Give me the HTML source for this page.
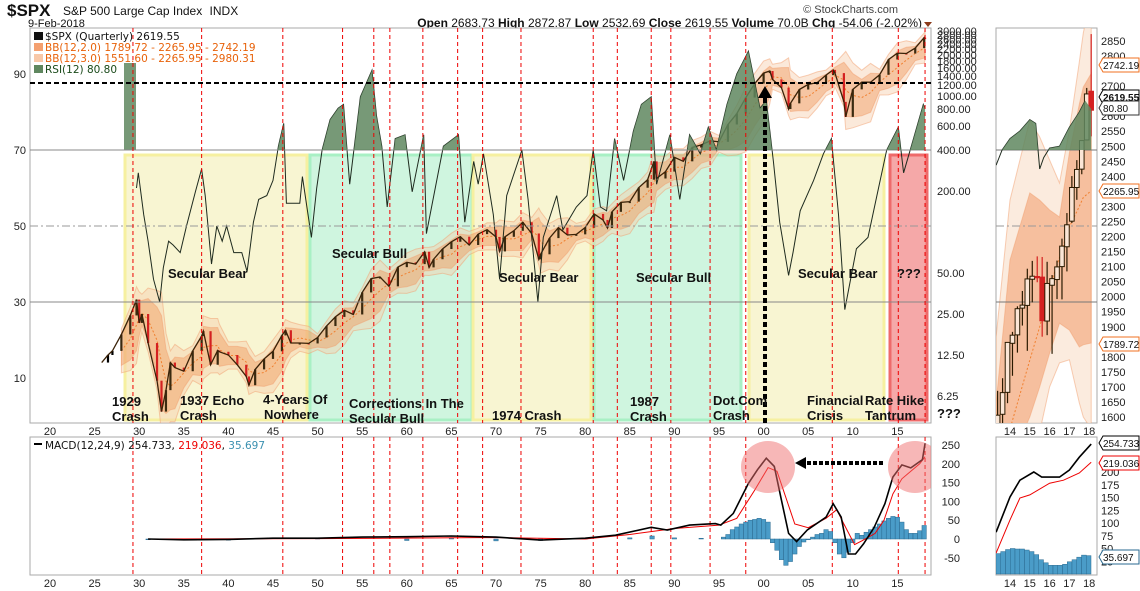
<!DOCTYPE html>
<html><head><meta charset="utf-8"><style>
html,body{margin:0;padding:0;background:#fff;}
svg{display:block;font-family:"Liberation Sans",sans-serif;}
.ann{font:bold 13px "Liberation Sans",sans-serif;fill:#111;}
.ax{font:11px "Liberation Sans",sans-serif;fill:#222;}
</style></head><body>
<svg id="c" width="1140" height="591" viewBox="0 0 1140 591">
<defs>
<clipPath id="mainClip"><rect x="30" y="28" width="901" height="395"/></clipPath>
<clipPath id="rsiTop"><rect x="30" y="28" width="901" height="122"/></clipPath>
<clipPath id="macdClip"><rect x="30" y="437" width="901" height="138"/></clipPath>
<clipPath id="rClip"><rect x="996" y="28" width="101" height="395"/></clipPath>
<clipPath id="rRsiTop"><rect x="996" y="28" width="101" height="122"/></clipPath>
<clipPath id="rMacdClip"><rect x="996" y="437" width="101" height="138"/></clipPath>
</defs>
<text x="7" y="16" font-size="17" font-weight="bold" fill="#111">$SPX</text>
<text x="63" y="15" font-size="12" fill="#111">S&amp;P 500 Large Cap Index <tspan dx="4">INDX</tspan></text>
<text x="28" y="27" font-size="11" fill="#111">9-Feb-2018</text>
<text x="898" y="13" font-size="11" fill="#444" text-anchor="end">© StockCharts.com</text>
<text x="922" y="27" font-size="12" fill="#111" text-anchor="end"><tspan font-weight="bold">Open</tspan> 2683.73  <tspan font-weight="bold">High</tspan> 2872.87  <tspan font-weight="bold">Low</tspan> 2532.69  <tspan font-weight="bold">Close</tspan> 2619.55  <tspan font-weight="bold">Volume</tspan> 70.0B  <tspan font-weight="bold">Chg</tspan> -54.06 (-2.02%)</text>
<path d="M924 22 L932 22 L928 27 Z" fill="#8b3a1a"/>
<g id="g"></g>
</svg>
<script>
// ---- data ----
const priceDates=[1925.8,1926.5,1927,1928,1929,1929.7,1930,1930.3,1931,1932,1932.5,1933,1933.5,1934,1935,1936,1937,1937.2,1938,1938.8,1939,1940,1941,1942,1942.3,1943,1944,1945,1946,1946.4,1947,1948,1949,1950,1951,1952,1953,1954,1955,1956,1957,1958,1959,1960,1961,1962,1962.5,1963,1964,1965,1966,1967,1968,1969,1970,1970.4,1971,1972,1973,1974,1974.8,1975,1976,1977,1978,1979,1980,1981,1982,1982.5,1983,1984,1985,1986,1987,1987.7,1988,1989,1990,1991,1992,1993,1994,1995,1996,1997,1998,1999,2000,2000.7,2001,2002,2002.8,2003,2004,2005,2006,2007,2007.8,2008,2009,2009.2,2010,2011,2012,2013,2014,2015,2016,2017,2018,2018.1];
const priceVals=[11,12.5,13.4,17.7,24.4,31.9,21.5,25,15.3,8.1,4.8,6.9,11,10.1,9.5,13.4,17.2,18.7,10.6,13.5,13.2,12.5,10.6,8.7,7.5,9.8,11.7,13.3,17.4,19,15.3,15.3,15.2,16.8,20.4,23.8,26.6,24.8,36,45.5,46.7,39.9,55.2,59.9,58.1,71.6,55,63.1,75,84.8,92.4,80.3,96.5,103.9,92,72,92.2,102,118,97.5,63,68.6,90.2,107.5,95.1,96.1,107.9,135.8,122.6,107,140.6,164.9,167.2,211.3,242.2,330,247.1,277.7,353.4,330.2,417.1,435.7,466.5,459.3,615.9,740.7,970.4,1229,1469,1520,1320,1148,800,880,1112,1212,1248,1418,1550,1468,903,700,1115,1258,1258,1426,1848,2059,2044,2239,2674,2620];
const rsiDates=[1929.7,1929.9,1930.5,1931,1931.6,1932.3,1932.7,1933.3,1933.8,1934.6,1935.3,1936.3,1937,1937.4,1938.1,1938.7,1939.3,1939.8,1940.6,1941.5,1942.1,1942.8,1943.4,1944.3,1945,1945.6,1946.2,1946.5,1948,1948.3,1948.8,1949.3,1949.9,1950.5,1951.4,1952.3,1952.9,1953.6,1954.8,1956.1,1956.6,1957.2,1957.8,1958.7,1959.8,1960.6,1961.9,1962.2,1964.1,1965.8,1966.5,1967.5,1968,1968.6,1969.7,1970.4,1971.2,1972.9,1973.6,1974.7,1975.3,1976.8,1977.5,1979,1980.2,1980.9,1981.7,1982.4,1983.3,1984.3,1985.4,1986.3,1987.4,1988,1989.5,1990.6,1991.7,1992.9,1993.8,1994.7,1995.9,1997,1998.3,1999.6,2000.3,2001.1,2001.8,2002.8,2003.3,2004.1,2005.6,2006.7,2007.6,2008.4,2009.1,2010.4,2011.7,2012.7,2013.8,2015.1,2015.7,2016.8,2017.9,2018.1];
const rsiVals=[60,64,53,46,36,30,39,46,45,43,50,59,65,58,40,50,46,50,43,43,38,51,57,58,62,71,77,56,56,63,55,47,60,70,78,81,82,61,84,91,79,71,55,73,74,59,74,48,71,74,51,67,61,69,53,36,58,70,57,30,47,58,49,55,58,70,55,54,73,62,75,82,84,61,74,57,74,69,76,70,82,90,96,81,83,67,51,37,43,54,62,69,73,53,28,44,47,58,70,76,64,73,82,80.8];
const macdDates=[1931,1935,1940,1945,1950,1955,1960,1965,1970,1975,1980,1983.4,1987.4,1989.2,1991.7,1994.6,1995.2,1996.6,1998.3,1999.3,2000.3,2001.2,2002,2002.8,2003.7,2004.9,2007,2007.8,2008.7,2009.5,2010.3,2011.2,2012.4,2013.6,2014.5,2015.5,2016.5,2017.8,2018.1];
const macdVals=[0,-2,-1,2,2,5,6,8,5,-3,2,10,31,24,37,41,37,68,148,184,215,193,104,15,-7,24,58,94,58,-40,-40,-13,31,94,165,197,189,211,254.7];
const sigDates=[1931,1950,1970,1980,1985,1990,1995,1997,1999,2000.5,2001.5,2002.5,2003.5,2005,2007,2008.2,2009,2010.2,2011,2012.5,2013.5,2014.5,2015.5,2016.5,2017.5,2018.1];
const sigVals=[0,1,4,0,12,28,37,55,130,190,180,110,40,30,55,78,40,-15,-5,15,50,120,160,180,200,219];
const histDates=[1931,1940,1950,1960,1965,1970,1975,1980,1985,1987.5,1990,1993,1995.5,1996,1996.5,1997,1997.5,1998,1998.5,1999,1999.5,2000,2000.5,2001,2001.5,2002,2002.5,2003,2003.5,2004,2004.5,2005,2005.5,2006,2006.5,2007,2007.5,2008,2008.5,2009,2009.5,2010,2010.5,2011,2011.5,2012,2012.5,2013,2013.5,2014,2014.5,2015,2015.5,2016,2016.5,2017,2017.5,2018];
const histVals=[-2,-3,2,-4,3,-5,-4,2,3,8,3,2,5,12,25,32,40,45,50,52,55,52,45,-10,-30,-55,-70,-60,-40,-20,-8,-2,5,12,15,25,20,-10,-40,-50,-35,-10,15,10,18,25,32,40,48,55,60,58,45,25,15,15,22,36];
const rQ=[2013.375,2013.625,2013.875,2014.125,2014.375,2014.625,2014.875,2015.125,2015.375,2015.625,2015.875,2016.125,2016.375,2016.625,2016.875,2017.125,2017.375,2017.625,2017.875,2018.1];
const rOpen=[1569,1609,1682,1845,1873,1962,1971,2058,2067,2065,1919,2038,2057,2100,2166,2251,2363,2424,2521,2683];
const rHigh=[1687,1729,1849,1883,1968,2019,2093,2119,2134,2132,2116,2072,2120,2193,2278,2401,2454,2519,2694,2873];
const rLow=[1536,1560,1646,1737,1814,1904,1820,1981,2048,1867,1872,1810,1992,1991,2084,2245,2322,2407,2520,2533];
const rClose=[1606,1681,1848,1872,1960,1972,2059,2068,2063,1920,2044,2060,2099,2168,2239,2363,2423,2519,2674,2620];
const rRsiDates=[2013.3,2013.6,2014,2014.5,2015,2015.3,2015.5,2015.7,2016,2016.5,2017,2017.5,2017.8,2018.1];
const rRsiVals=[66,70,73,75,78,77,65,68,70.5,71,76,80,83,80.8];
const rBandDates=[2013.3,2014,2015,2015.5,2016,2016.5,2017,2017.5,2017.7,2018.1];
const rUp3=[1866,2321,2587,2531,2454,2378,2554,2780,2877,3000];
const rUp2=[1647,2122,2345,2321,2288,2265,2478,2640,2697,2742];
const rMid=[1520,1560,1789,1900,2032,2130,2232,2300,2330,2352];
const rLo2=[1300,1450,1600,1700,1812,1912,1889,1833,1840,1846];
const rLo3=[1100,1250,1400,1550,1700,1780,1790,1647,1600,1560];
const rMacdDates=[2013.3,2014,2014.5,2015.2,2015.6,2016.5,2017,2017.5,2018.1];
const rMacdVals=[82,151,184,200,190,190,204,229,254.7];
const rSigDates=[2013.3,2014,2014.5,2015,2016,2016.7,2017.5,2018.1];
const rSigVals=[41,106,149,155,178,184,198,219];
const rHist=[40,44,48,50,49,49,47,44,38,28,22,17,17,17,19,24,28,33,37,36];
const yearTicks=["20","25","30","35","40","45","50","55","60","65","70","75","80","85","90","95","00","05","10","15"];
const priceTicks=[3000,2800,2600,2400,2200,2000,1800,1600,1400,1200,1000,800,600,400,200,50,25,12.5,6.25];
const rsiTicks=[90,70,50,30,10];
const macdTicks=[250,200,150,100,50,0,-50];
const rPriceTicks=[2850,2800,2700,2650,2600,2550,2500,2450,2400,2350,2300,2250,2200,2150,2100,2050,2000,1950,1900,1850,1800,1750,1700,1650,1600];
const rMacdTicks=[200,175,150,125,100,75,50,25];
const redLines=[1929.3,1937.0,1946.1,1952.8,1956.3,1958.1,1961.8,1965.7,1968.5,1972.8,1980.9,1983.6,1987.4,1989.6,1994.0,1998.0,2007.7,2015.1,2018.1];

// ---- axes ----
const X=y=>50+(y-1920)*8.92;
const YR=v=>226-(v-50)*3.8;
const YP=p=>150-Math.log2(p/400)*41;
const YM=v=>539-v*0.376;
const XR=y=>1010+(y-2014)*19.8;
const YRP=p=>417-(p-1600)*0.3008;
const YRM=v=>574-v*0.51;

const NS="http://www.w3.org/2000/svg";
const G=document.getElementById('g');
function mk(tag,attrs,parent){const e=document.createElementNS(NS,tag);for(const k in attrs)e.setAttribute(k,attrs[k]);(parent||G).appendChild(e);return e;}
function grp(clip){const e=document.createElementNS(NS,'g');if(clip)e.setAttribute('clip-path','url(#'+clip+')');G.appendChild(e);return e;}
function pts(ds,vs,fx,fy){return ds.map((d,i)=>fx(d).toFixed(1)+','+fy(vs[i]).toFixed(1)).join(' ');}
let el;

el=mk('rect',{x:30,y:28,width:901,height:395,fill:'#fff',stroke:'#aaa'});


el=mk('rect',{x:30,y:437,width:901,height:138,fill:'#fff',stroke:'#aaa'});


el=mk('rect',{x:996,y:28,width:101,height:395,fill:'#fff',stroke:'#aaa'});


el=mk('rect',{x:996,y:437,width:101,height:138,fill:'#fff',stroke:'#aaa'});



const M=grp('mainClip');
const boxes=[[125,307,'#f8f5d2','#f6f0a0','secular-bear-box-1'],[310,472,'#cff5df','#a8f0c4','secular-bull-box-1'],[473,591,'#f8f5d2','#f6f0a0','secular-bear-box-2'],[594,741,'#cff5df','#a8f0c4','secular-bull-box-2'],[749,884,'#f8f5d2','#f6f0a0','secular-bear-box-3'],[890,927,'#f5a8a8','#ee6a6a','rate-hike-box']];
boxes.forEach(b=>{el=mk('rect',{x:b[0],y:155,width:b[1]-b[0],height:265,fill:b[2],stroke:b[3],'stroke-width':3},M);

});

[70,30].forEach(v=>{el=mk('line',{x1:30,x2:931,y1:YR(v),y2:YR(v),stroke:'#888'});

});
el=mk('line',{x1:30,x2:931,y1:YR(50),y2:YR(50),stroke:'#999','stroke-dasharray':'8,3,2,3'});



// bollinger (trailing window, log space)
const up3=[],up2=[],mid=[],lo2=[],lo3=[],bd=[];
for(let i=3;i<priceVals.length;i++){const w=[0,1,2,3].map(k=>Math.log(priceVals[i-k]));const m=w.reduce((a,b)=>a+b)/4;const s=0.6*Math.sqrt(w.reduce((a,b)=>a+(b-m)*(b-m),0)/4)+0.02;
bd.push(priceDates[i]);mid.push(Math.exp(m));up2.push(Math.exp(m+2*s));lo2.push(Math.exp(m-2*s));up3.push(Math.exp(m+3*s));lo3.push(Math.exp(m-3*s));}
function band(u,l,fill,op,name,parent,fx,fy,ds){el=mk('polygon',{points:pts(ds,u,fx,fy)+' '+pts(ds.slice().reverse(),l.slice().reverse(),fx,fy),fill:fill,'fill-opacity':op,stroke:'#f2a070','stroke-opacity':0.5},parent);

}
band(up3,lo3,'#f7cfae',0.45,'bb3-band',M,X,YP,bd);
band(up2,lo2,'#f09a5e',0.45,'bb2-band',M,X,YP,bd);
el=mk('polyline',{points:pts(bd,mid,X,YP),fill:'none',stroke:'#f08030','stroke-dasharray':'2,2'},M);



for(let i=1;i<priceVals.length;i++){const d=priceDates[i],c=priceVals[i],o=priceVals[i-1];const pre=d<1928;
const y1=YP(Math.max(o,c)),y2=YP(Math.min(o,c));
el=mk('rect',{x:X(d)-1.1,y:y1,width:2.2,height:Math.max(1.5,y2-y1),fill:pre?'#000':(c<o?'#d42020':'#3a2a10')},M);

}
el=mk('polyline',{points:pts(priceDates,priceVals,X,YP),fill:'none',stroke:'#3a2208','stroke-width':1.3},M);



const rsiTopG=grp('rsiTop');
el=mk('polygon',{points:X(rsiDates[0])+','+YR(70)+' '+pts(rsiDates,rsiVals,X,YR)+' '+X(rsiDates[rsiDates.length-1])+','+YR(70),fill:'#5f875f','fill-opacity':0.85},rsiTopG);


el=mk('rect',{x:124,y:63,width:12,height:87,fill:'#5f875f','fill-opacity':0.85},M);


el=mk('polyline',{points:pts(rsiDates,rsiVals,X,YR),fill:'none',stroke:'#1e2a1e','stroke-width':1},M);



el=mk('line',{x1:30,x2:931,y1:83,y2:83,stroke:'#000','stroke-width':2,'stroke-dasharray':'5,3'});


el=mk('line',{x1:765,x2:765,y1:98,y2:423,stroke:'#000','stroke-width':4,'stroke-dasharray':'5,3'});


el=mk('path',{d:'M758 98 L772 98 L765 86 Z',fill:'#000'});



redLines.forEach(d=>{el=mk('line',{x1:X(d),x2:X(d),y1:28,y2:423,stroke:'#e00','stroke-dasharray':'4,3'});


el=mk('line',{x1:X(d),x2:X(d),y1:437,y2:575,stroke:'#e00','stroke-dasharray':'4,3'});

});

const anns=[['Secular Bear',168,278],['Secular Bull',332,258],['1929',112,406],['Crash',112,421],['1937 Echo',180,405],['Crash',180,420],['4-Years Of',263,404],['Nowhere',264,419],['Corrections In The',349,408],['Secular Bull',349,423],['Secular Bear',499,282],['Secular Bull',636,282],['1974 Crash',492,420],['1987',630,406],['Crash',630,421],['Dot.Com',713,405],['Crash',713,420],['Secular Bear',798,278],['???',897,278],['Financial',807,405],['Crisis',807,420],['Rate Hike',865,405],['Tantrum',865,420],['???',937,418]];
anns.forEach(a=>{el=mk('text',{x:a[1],y:a[2],class:'ann'});el.textContent=a[0];

});

const leg=[['$SPX (Quarterly) 2619.55','#111',40],['BB(12,2.0) 1789.72 - 2265.95 - 2742.19','#e8620a',51],['BB(12,3.0) 1551.60 - 2265.95 - 2980.31','#e8620a',62],['RSI(12) 80.80','#1a4a1a',73]];
leg.forEach((l,i)=>{el=mk('text',{x:45,y:l[2],fill:l[1],'font-size':10.5,'font-family':'DejaVu Sans, sans-serif'});el.textContent=l[0];


el=mk('rect',{x:34,y:l[2]-8,width:9,height:8,fill:i==0?'#111':(i==3?'#5f875f':(i==1?'#f4a070':'#f8c8a8'))});

});

rsiTicks.forEach(v=>{el=mk('text',{x:26,y:YR(v)+4,class:'ax','text-anchor':'end'});el.textContent=v;

});
priceTicks.forEach(v=>{el=mk('text',{x:937,y:YP(v)+4,class:'ax'});el.textContent=v.toFixed(2);

});
yearTicks.forEach((t,i)=>{[431,583].forEach(yy=>{el=mk('text',{x:X(1920+5*i),y:yy+4,class:'ax','text-anchor':'middle'});el.textContent=t;

});});

const MG=grp('macdClip');
histDates.forEach((d,i)=>{const v=histVals[i];el=mk('rect',{x:X(d)-2.2,y:Math.min(YM(0),YM(v)),width:4.4,height:Math.abs(YM(v)-YM(0)),fill:'#4a9cc8',stroke:'#2a6a90','stroke-width':0.5},MG);

});
el=mk('polyline',{points:pts(sigDates,sigVals,X,YM),fill:'none',stroke:'#e00','stroke-width':1},MG);


el=mk('polyline',{points:pts(macdDates,macdVals,X,YM),fill:'none',stroke:'#000','stroke-width':1.6},MG);


[[768,'macd-peak-circle-2000'],[915,'macd-peak-circle-2018']].forEach(c=>{el=mk('ellipse',{cx:c[0],cy:467,rx:27,ry:26,fill:'#f07070','fill-opacity':0.5},MG);

});
el=mk('line',{x1:883,x2:802,y1:463,y2:463,stroke:'#000','stroke-width':4,'stroke-dasharray':'4,2'});


el=mk('path',{d:'M795 463 L806 457 L806 469 Z',fill:'#000'});


macdTicks.forEach(v=>{el=mk('text',{x:960,y:YM(v)+4,class:'ax','text-anchor':'end'});el.textContent=v;

});
el=mk('text',{x:45,y:449,'font-size':10.5,'font-family':'DejaVu Sans, sans-serif',fill:'#111'});
el.innerHTML='MACD(12,24,9) 254.733, <tspan fill="#e00">219.036</tspan>, <tspan fill="#3a90b0">35.697</tspan>';


el=mk('rect',{x:34,y:443,width:8,height:2,fill:'#000'});



// ---- right zoom panel ----
const R=grp('rClip');
band(rUp3,rLo3,'#f9e2d0',0.7,'zoom-bb3-band',R,XR,YRP,rBandDates);
band(rUp2,rLo2,'#f4b088',0.75,'zoom-bb2-band',R,XR,YRP,rBandDates);
el=mk('polyline',{points:pts(rBandDates,rMid,XR,YRP),fill:'none',stroke:'#f08030','stroke-dasharray':'2,2'},R);


[70,30].forEach(v=>{el=mk('line',{x1:996,x2:1097,y1:YR(v),y2:YR(v),stroke:'#777'},R);

});
el=mk('line',{x1:996,x2:1097,y1:YR(50),y2:YR(50),stroke:'#999','stroke-dasharray':'8,3,2,3'},R);


const RT=grp('rRsiTop');
el=mk('polygon',{points:XR(rRsiDates[0])+','+YR(70)+' '+pts(rRsiDates,rRsiVals,XR,YR)+' '+XR(rRsiDates[rRsiDates.length-1])+','+YR(70),fill:'#5f875f','fill-opacity':0.85},RT);


el=mk('polyline',{points:pts(rRsiDates,rRsiVals,XR,YR),fill:'none',stroke:'#1e2a1e'},R);


rQ.forEach((d,i)=>{const up=rClose[i]>=rOpen[i];const col=up?'#2a1a00':'#d42020';
el=mk('line',{x1:XR(d),x2:XR(d),y1:YRP(rHigh[i]),y2:YRP(rLow[i]),stroke:col,'stroke-width':1.2},R);


const y1=YRP(Math.max(rOpen[i],rClose[i])),y2=YRP(Math.min(rOpen[i],rClose[i]));
el=mk('rect',{x:XR(d)-2.3,y:y1,width:4.6,height:Math.max(1,y2-y1),fill:up?'#fbe6d6':'#d42020',stroke:col},R);

});
rPriceTicks.forEach(v=>{el=mk('text',{x:1101,y:YRP(v)+4,class:'ax'});el.textContent=v;

});
["14","15","16","17","18"].forEach((t,i)=>{[431,583].forEach(yy=>{el=mk('text',{x:XR(2014+i),y:yy+4,class:'ax','text-anchor':'middle'});el.textContent=t;

});});
const RM=grp('rMacdClip');
rHist.forEach((v,i)=>{const x=996+i*4.75;el=mk('rect',{x:x,y:YRM(v),width:4.75,height:YRM(0)-YRM(v),fill:'#4a9cc8',stroke:'#2a6a90','stroke-width':0.5},RM);

});
el=mk('polyline',{points:pts(rSigDates,rSigVals,XR,YRM),fill:'none',stroke:'#e00'},RM);


el=mk('polyline',{points:pts(rMacdDates,rMacdVals,XR,YRM),fill:'none',stroke:'#000','stroke-width':1.6},RM);


rMacdTicks.forEach(v=>{el=mk('text',{x:1101,y:YRM(v)+4,class:'ax'});el.textContent=v;

});
const tags=[['2742.19',65,'#f07020',false],['2619.55',97,'#000',true],['80.80',108,'#333',false],['2265.95',191,'#f07020',false],['1789.72',344,'#f07020',false],['254.733',443,'#000',false],['219.036',463,'#e00',false],['35.697',557,'#2a6a90',false]];
tags.forEach(t=>{el=mk('path',{d:`M1099 ${t[1]} L1103 ${t[1]-7} L1139 ${t[1]-7} L1139 ${t[1]+7} L1103 ${t[1]+7} Z`,fill:'#fff',stroke:t[2]});


el=mk('text',{x:1103,y:t[1]+4,'font-size':10,'font-family':'Liberation Sans, sans-serif',fill:'#111','font-weight':t[3]?'bold':'normal'});el.textContent=t[0];

});
</script>
</body></html>
